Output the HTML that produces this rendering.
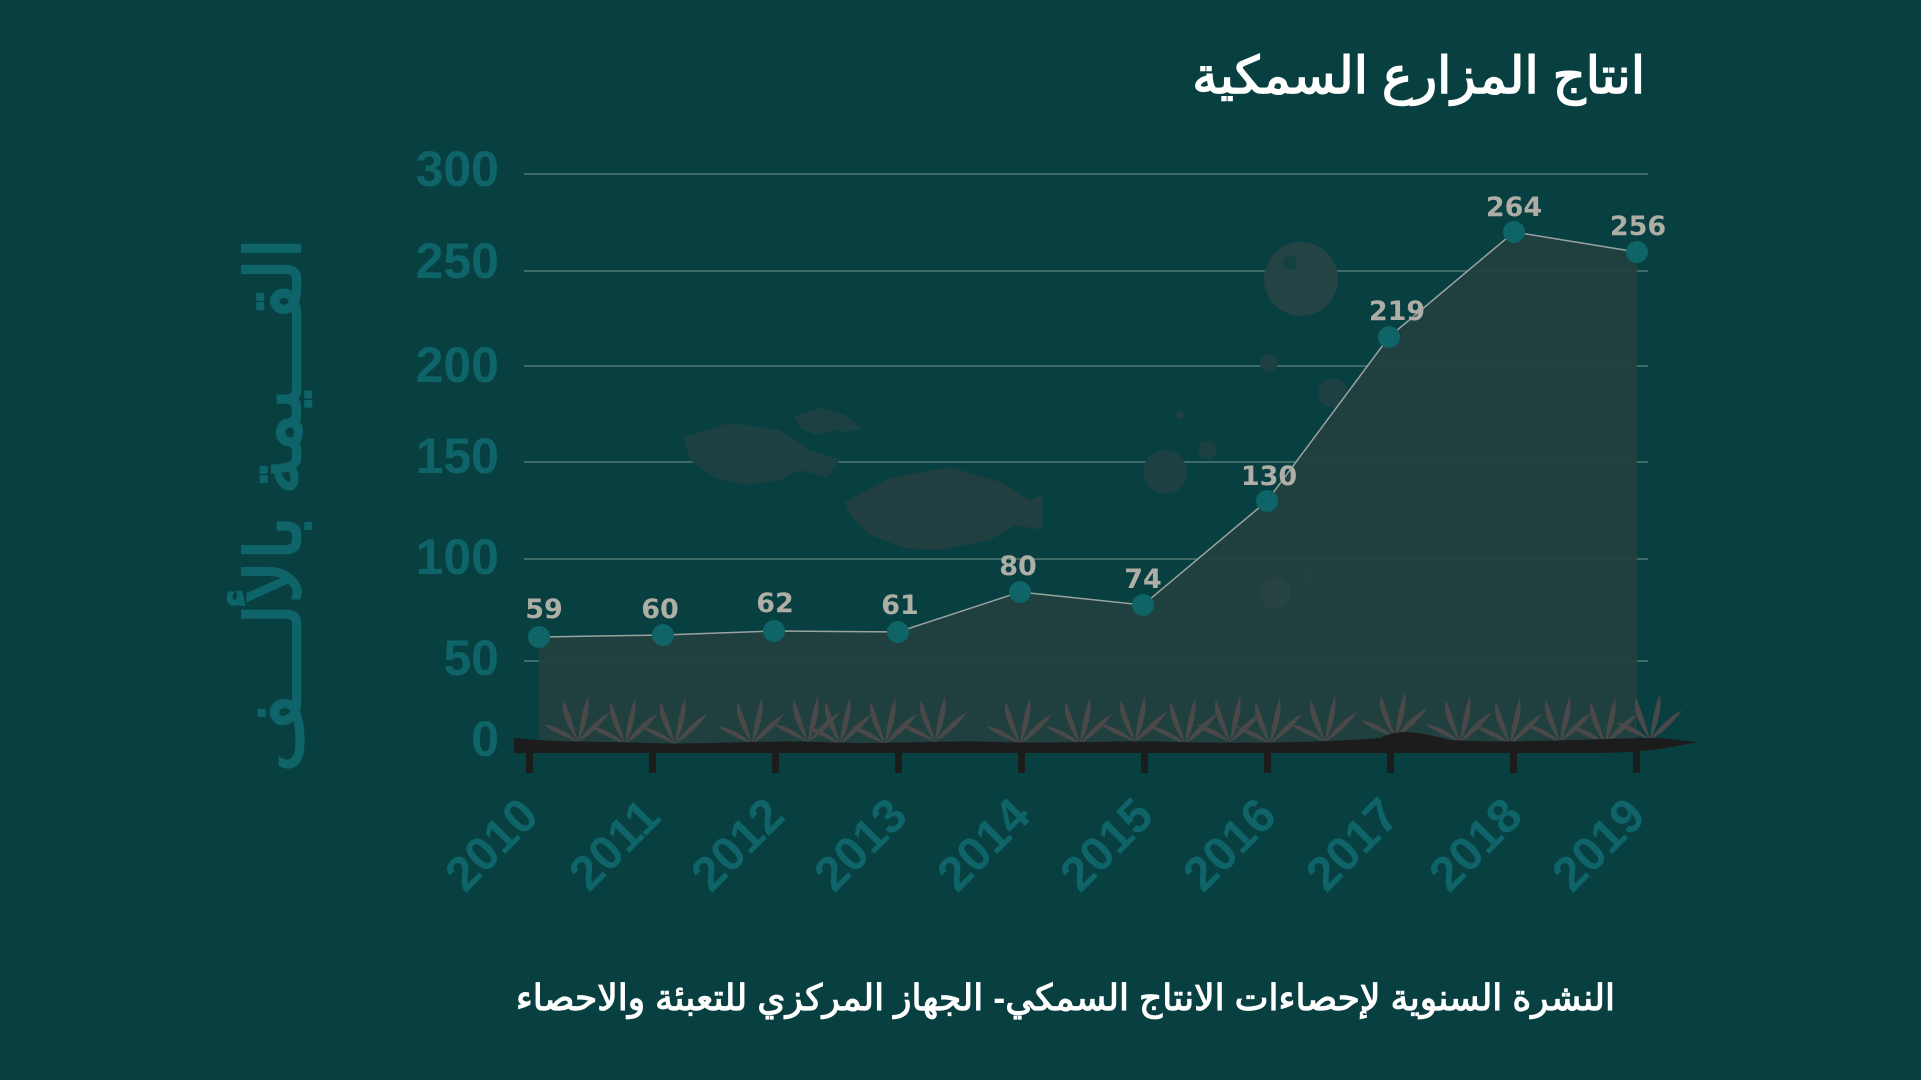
<!DOCTYPE html>
<html><head><meta charset="utf-8"><style>
html,body{margin:0;padding:0;background:#083f40;}
svg{display:block}
</style></head><body>
<svg width="1921" height="1080" viewBox="0 0 1921 1080" xmlns="http://www.w3.org/2000/svg">
<rect width="1921" height="1080" fill="#083f40"/>
<text x="1645" y="93" text-anchor="end" font-family="'Liberation Sans','Noto Sans CJK SC',sans-serif" font-weight="bold" font-size="51" fill="#ffffff">انتاج المزارع السمكية</text>
<g stroke="#3f6a68" stroke-width="2">
<line x1="524" y1="174" x2="1648" y2="174"/><line x1="524" y1="271" x2="1648" y2="271"/>
<line x1="524" y1="366" x2="1648" y2="366"/><line x1="524" y1="462" x2="1648" y2="462"/>
<line x1="524" y1="559" x2="1648" y2="559"/><line x1="524" y1="661" x2="1648" y2="661"/>
</g>
<g font-family="'Liberation Sans',sans-serif" font-weight="bold" font-size="50" fill="#0e6468" text-anchor="end">
<text x="499" y="186">300</text><text x="499" y="278">250</text><text x="499" y="382">200</text>
<text x="499" y="473">150</text><text x="499" y="574">100</text><text x="499" y="675">50</text><text x="499" y="756">0</text>
</g>
<text transform="translate(300,505) rotate(-90)" text-anchor="middle" font-family="'Liberation Sans','Noto Sans CJK SC',sans-serif" font-weight="bold" font-size="76" fill="#0e6468">القـــيمة بالألـــف</text>
<!-- fish -->
<g fill="#1d4142">
<path d="M684 437 L730 423 L780 430 L810 450 L840 460 L827 478 L800 470 L780 480 L745 485 L715 478 L690 460 Z"/>
<path d="M794 416 L820 408 L845 415 L861 428 L848 432 L835 430 L815 435 L800 428 Z"/>
<path d="M845 502 L890 478 L950 467 L1000 482 L1030 500 L1042 495 L1042 530 L1015 525 L990 540 L940 550 L905 548 L870 535 L850 515 Z" fill="#213f40"/>
<circle cx="1301" cy="279" r="37"/><circle cx="1269" cy="363" r="9"/><circle cx="1333" cy="393" r="15"/>
<circle cx="1165" cy="472" r="22"/><circle cx="1207" cy="450" r="9"/><circle cx="1180" cy="415" r="4"/>
<circle cx="1275" cy="593" r="16"/><circle cx="1310" cy="576" r="7"/>
</g>
<!-- area -->
<path d="M539 637 L663 635 L774 631 L898 632 L1020 592 L1143 605 L1267 501 L1389 337 L1514 232 L1637 252 L1637 744 L539 744 Z" fill="#224040" opacity="0.95"/>
<circle cx="1301" cy="279" r="37" fill="#2a4645" opacity="0.5"/>
<circle cx="1290" cy="263" r="7" fill="#083f40" opacity="0.6"/>
<circle cx="1275" cy="593" r="16" fill="#2a4645" opacity="0.6"/>
<polyline points="539,637 663,635 774,631 898,632 1020,592 1143,605 1267,501 1389,337 1514,232 1637,252" fill="none" stroke="#9aa3a0" stroke-width="1.5"/>
<!-- plants -->
<g fill="#4a4848">
<path id="pl" d="M0 0 C-10 -15 -18 -30 -14 -42 C-8 -28 -4 -15 0 0 Z M0 0 C2 -18 4 -32 10 -46 C12 -30 8 -15 0 0 Z M0 0 C10 -14 20 -24 32 -30 C24 -18 14 -8 0 0 Z M0 0 C-14 -6 -26 -10 -34 -18 C-22 -16 -10 -10 0 0 Z"/>
<use href="#pl" x="578" y="742"/><use href="#pl" x="625" y="744"/><use href="#pl" x="675" y="744"/>
<use href="#pl" x="752" y="744"/><use href="#pl" x="808" y="742"/><use href="#pl" x="840" y="744"/>
<use href="#pl" x="885" y="744"/><use href="#pl" x="935" y="742"/><use href="#pl" x="1020" y="744"/>
<use href="#pl" x="1080" y="744"/><use href="#pl" x="1135" y="742"/><use href="#pl" x="1185" y="744"/>
<use href="#pl" x="1230" y="742"/><use href="#pl" x="1270" y="744"/><use href="#pl" x="1325" y="742"/>
<use href="#pl" x="1395" y="738"/><use href="#pl" x="1460" y="742"/><use href="#pl" x="1510" y="744"/>
<use href="#pl" x="1560" y="742"/><use href="#pl" x="1605" y="744"/><use href="#pl" x="1650" y="740"/>
</g>
<!-- ground -->
<path d="M514 738 C560 743 600 741 650 743 C700 745 760 740 820 742 C880 745 940 740 1000 742 C1060 744 1120 740 1180 742 C1250 744 1330 742 1380 738 C1400 728 1420 732 1450 740 C1520 744 1600 738 1660 738 L1697 742 C1660 750 1640 752 1600 753 L514 753 Z" fill="#1c1c1c"/>
<g fill="#1c1c1c">
<rect x="526" y="748" width="7" height="25"/><rect x="649" y="748" width="7" height="25"/>
<rect x="772" y="748" width="7" height="25"/><rect x="895" y="748" width="7" height="25"/>
<rect x="1018" y="748" width="7" height="25"/><rect x="1141" y="748" width="7" height="25"/>
<rect x="1264" y="748" width="7" height="25"/><rect x="1387" y="748" width="7" height="25"/>
<rect x="1510" y="748" width="7" height="25"/><rect x="1633" y="748" width="7" height="25"/>
</g>
<g fill="#0e6466">
<circle cx="539" cy="637" r="11"/><circle cx="663" cy="635" r="11"/><circle cx="774" cy="631" r="11"/>
<circle cx="898" cy="632" r="11"/><circle cx="1020" cy="592" r="11"/><circle cx="1143" cy="605" r="11"/>
<circle cx="1267" cy="501" r="11"/><circle cx="1389" cy="337" r="11"/><circle cx="1514" cy="232" r="11"/>
<circle cx="1637" cy="252" r="11"/>
</g>
<g font-family="'DejaVu Sans','Liberation Sans',sans-serif" font-weight="bold" font-size="27" fill="#aeaea6" text-anchor="middle">
<text x="544" y="618">59</text><text x="660" y="618">60</text><text x="775" y="612">62</text>
<text x="900" y="614">61</text><text x="1018" y="575">80</text><text x="1143" y="588">74</text>
<text x="1269" y="485">130</text><text x="1397" y="320">219</text><text x="1514" y="216">264</text>
<text x="1638" y="235">256</text>
</g>
<g font-family="'Liberation Sans',sans-serif" font-weight="bold" font-size="48" fill="#0e6468" text-anchor="middle">
<text transform="translate(503,856) rotate(-45)">2010</text>
<text transform="translate(626,856) rotate(-45)">2011</text>
<text transform="translate(749,856) rotate(-45)">2012</text>
<text transform="translate(872,856) rotate(-45)">2013</text>
<text transform="translate(995,856) rotate(-45)">2014</text>
<text transform="translate(1118,856) rotate(-45)">2015</text>
<text transform="translate(1241,856) rotate(-45)">2016</text>
<text transform="translate(1364,856) rotate(-45)">2017</text>
<text transform="translate(1487,856) rotate(-45)">2018</text>
<text transform="translate(1610,856) rotate(-45)">2019</text>
</g>
<text x="1615" y="1010" text-anchor="end" font-family="'Liberation Sans','Noto Sans CJK SC',sans-serif" font-weight="bold" font-size="36" fill="#ffffff">النشرة السنوية لإحصاءات الانتاج السمكي- الجهاز المركزي للتعبئة والاحصاء</text>
</svg>
</body></html>
